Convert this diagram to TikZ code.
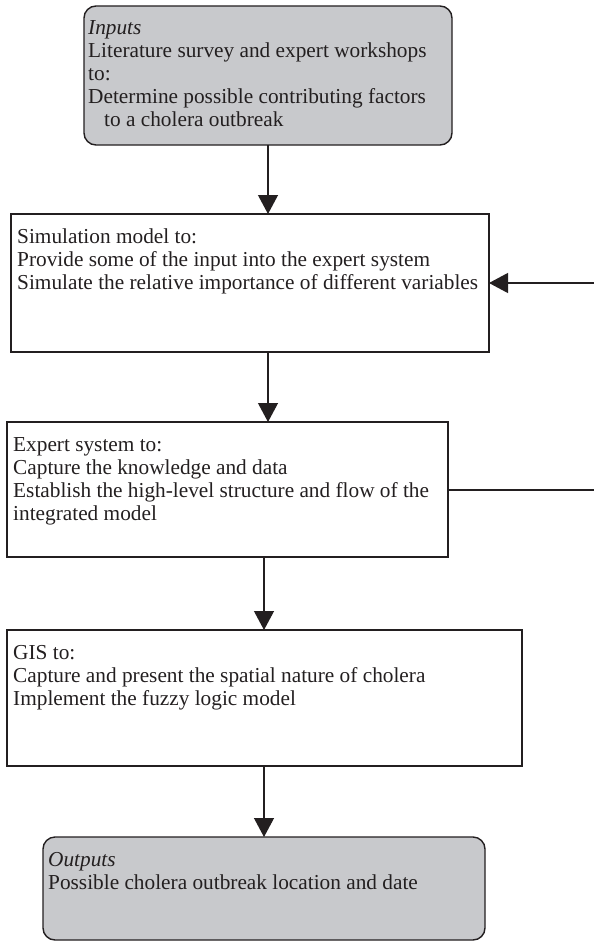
\documentclass[tikz,border=0pt]{standalone}
\usepackage{fontspec}
\setmainfont{Liberation Serif}
\usetikzlibrary{arrows.meta}
\definecolor{boxgray}{RGB}{200,201,204}
\definecolor{ink}{RGB}{35,31,32}
\newcommand\boxtext[1]{\parbox[t]{560pt}{\fontsize{21.3}{23}\selectfont\raggedright #1}}
\begin{document}
\begin{tikzpicture}[x=1pt,y=-1pt,
  stepbox/.style={draw=ink, line width=1.4pt, rectangle, anchor=north west, inner sep=0pt, outer sep=0pt},
  roundbox/.style={stepbox, fill=boxgray, rounded corners=12pt},
  txt/.style={anchor=base west, inner sep=0pt, text=ink},
  arr/.style={draw=ink, line width=1.2pt, -{Triangle[length=19pt,width=20pt]}},
  conn/.style={draw=ink, line width=1.2pt}]
\useasboundingbox (0,0) rectangle (594,942);
% boxes
\node[roundbox, minimum width=368pt, minimum height=139pt] (b1) at (84,6) {};
\node[stepbox, minimum width=478pt, minimum height=138pt] (b2) at (11,214) {};
\node[stepbox, minimum width=441pt, minimum height=135pt] (b3) at (7,422) {};
\node[stepbox, minimum width=515pt, minimum height=136pt] (b4) at (7,630) {};
\node[roundbox, minimum width=442pt, minimum height=103pt] (b5) at (43,837) {};
% texts
\node[txt] (t1) at (88,35) {\boxtext{\textit{Inputs}\\Literature survey and expert workshops\\to:\\Determine possible contributing factors\\\hspace*{16pt}to a cholera outbreak}};
\node[txt] (t2) at (17,243) {\boxtext{Simulation model to:\\Provide some of the input into the expert system\\Simulate the relative importance of different variables}};
\node[txt] (t3) at (13,451) {\boxtext{Expert system to:\\Capture the knowledge and data\\Establish the high-level structure and flow of the\\integrated model}};
\node[txt] (t4) at (13,659) {\boxtext{GIS to:\\Capture and present the spatial nature of cholera\\Implement the fuzzy logic model}};
\node[txt] (t5) at (48,866) {\boxtext{\textit{Outputs}\\Possible cholera outbreak location and date}};
% connectors
\coordinate (rin) at (594,283);
\coordinate (rout) at (594,490);
\draw[arr] (b1.south) -- (b1.south |- b2.north);
\draw[arr] (b2.south -| b1.south) -- (b3.north -| b1.south);
\draw[arr] (b3.south -| b5.north) -- (b4.north -| b5.north);
\draw[arr] (b4.south -| b5.north) -- (b5.north);
\draw[arr] (rin) -- (rin -| b2.east);
\draw[conn] (b3.east |- rout) -- (rout);
\end{tikzpicture}
\end{document}
